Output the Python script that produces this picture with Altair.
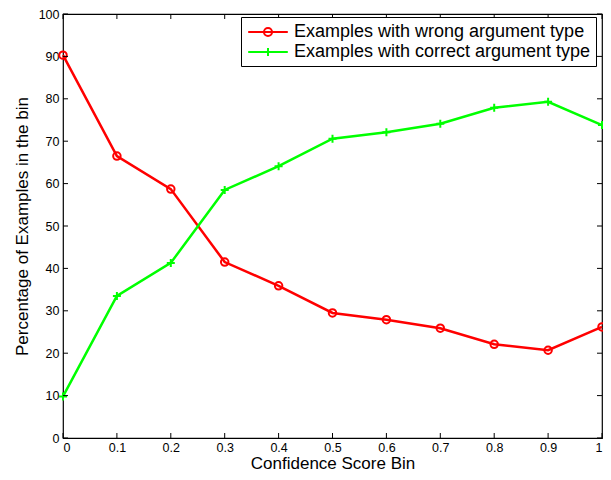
import altair as alt
import pandas as pd

# ---- data ----
bins = [0.0, 0.1, 0.2, 0.3, 0.4, 0.5, 0.6, 0.7, 0.8, 0.9, 1.0]
wrong_pct = [90.3, 66.5, 58.7, 41.5, 35.9, 29.5, 27.9, 25.9, 22.1, 20.7, 26.2]
correct_pct = [9.8, 33.5, 41.3, 58.5, 64.1, 70.6, 72.1, 74.1, 77.9, 79.3, 73.8]
series_names = ["Examples with wrong argument type", "Examples with correct argument type"]
series_colors = ["#ff0000", "#00ff00"]
x_ticks = [0, 0.1, 0.2, 0.3, 0.4, 0.5, 0.6, 0.7, 0.8, 0.9, 1]
y_ticks = [0, 10, 20, 30, 40, 50, 60, 70, 80, 90, 100]

W, H = 539, 424
FONT = "Liberation Sans"
TICK = 5

df = pd.DataFrame({
    "x": bins + bins,
    "pct": wrong_pct + correct_pct,
    "series": [series_names[0]] * len(bins) + [series_names[1]] * len(bins),
})
xt = pd.DataFrame({"x": x_ticks})
yt = pd.DataFrame({"pct": y_ticks})

xs = alt.Scale(domain=[0, 1], nice=False, zero=False)
ys = alt.Scale(domain=[0, 100], nice=False)
cs = alt.Scale(domain=series_names, range=series_colors)

plus_path = "M-1,0L1,0M0,-1L0,1"
leg_circle = "M-2.2,0L2.2,0M-0.45,0A0.45,0.45 0 1,1 0.45,0A0.45,0.45 0 1,1 -0.45,0"
leg_plus = "M-2.2,0L2.2,0M0,-0.45L0,0.45"

x_enc = alt.X("x:Q", scale=xs, axis=alt.Axis(
    values=x_ticks, format="~g", title="Confidence Score Bin",
    labelPadding=3, titlePadding=2))
y_enc = alt.Y("pct:Q", scale=ys, axis=alt.Axis(
    values=y_ticks, format="d", title="Percentage of Examples in the bin",
    labelPadding=4, titlePadding=7))
x_plain = alt.X("x:Q", scale=xs)
y_plain = alt.Y("pct:Q", scale=ys)

base = alt.Chart(df)


def series_layers(i, shape, size):
    sub = base.transform_filter(alt.datum.series == series_names[i])
    ln = sub.mark_line(color=series_colors[i], strokeWidth=2.5).encode(
        x=x_enc if i == 0 else x_plain, y=y_enc if i == 0 else y_plain)
    pt = sub.mark_point(shape=shape, color=series_colors[i], filled=False,
                        strokeWidth=2, size=size, opacity=1).encode(x=x_plain, y=y_plain)
    return [ln, pt]


legend_props = dict(
    orient="none", legendX=178, legendY=3, title=None,
    strokeColor="black", fillColor="white", padding=5,
    labelFont=FONT, labelFontSize=18, labelColor="black", labelLimit=400,
    symbolSize=324, symbolStrokeWidth=2, symbolOffset=12, labelOffset=16,
    rowPadding=1,
)
legend_layer = base.transform_filter("datum.pct < 0").mark_point(
    filled=False, strokeWidth=2, opacity=1).encode(
    x=x_plain, y=y_plain,
    color=alt.Color("series:N", scale=cs, legend=alt.Legend(**legend_props)),
    shape=alt.Shape("series:N", scale=alt.Scale(domain=series_names, range=[leg_circle, leg_plus]),
                    legend=alt.Legend(**legend_props)),
)

# inward tick marks on all four sides
tick_bottom = alt.Chart(xt).mark_rule(color="black", strokeWidth=1).encode(
    x=x_plain, y=alt.value(H), y2=alt.value(H - TICK))
tick_top = alt.Chart(xt).mark_rule(color="black", strokeWidth=1).encode(
    x=x_plain, y=alt.value(0), y2=alt.value(TICK))
tick_left = alt.Chart(yt).mark_rule(color="black", strokeWidth=1).encode(
    y=y_plain, x=alt.value(0), x2=alt.value(TICK))
tick_right = alt.Chart(yt).mark_rule(color="black", strokeWidth=1).encode(
    y=y_plain, x=alt.value(W), x2=alt.value(W - TICK))

layers = series_layers(0, "circle", 56) + series_layers(1, plus_path, 64) + [
    legend_layer, tick_bottom, tick_top, tick_left, tick_right]

# svg is 595 x 464 so that, with the 8px page margin, the page is exactly 611 x 480
chart = alt.layer(*layers).properties(
    width=W, height=H,
    autosize=alt.AutoSizeParams(type="none"),
    padding={"left": 55, "top": 6, "right": 1, "bottom": 34},
    background="white",
).configure_view(
    stroke="black", strokeWidth=1.2
).configure_axis(
    domain=False, ticks=False, grid=False,
    labelFont=FONT, labelFontSize=12.5, labelColor="black",
    titleFont=FONT, titleFontSize=17, titleFontWeight="normal", titleColor="black",
)

chart.save("out.html", embed_options={"renderer": "svg", "actions": False})
